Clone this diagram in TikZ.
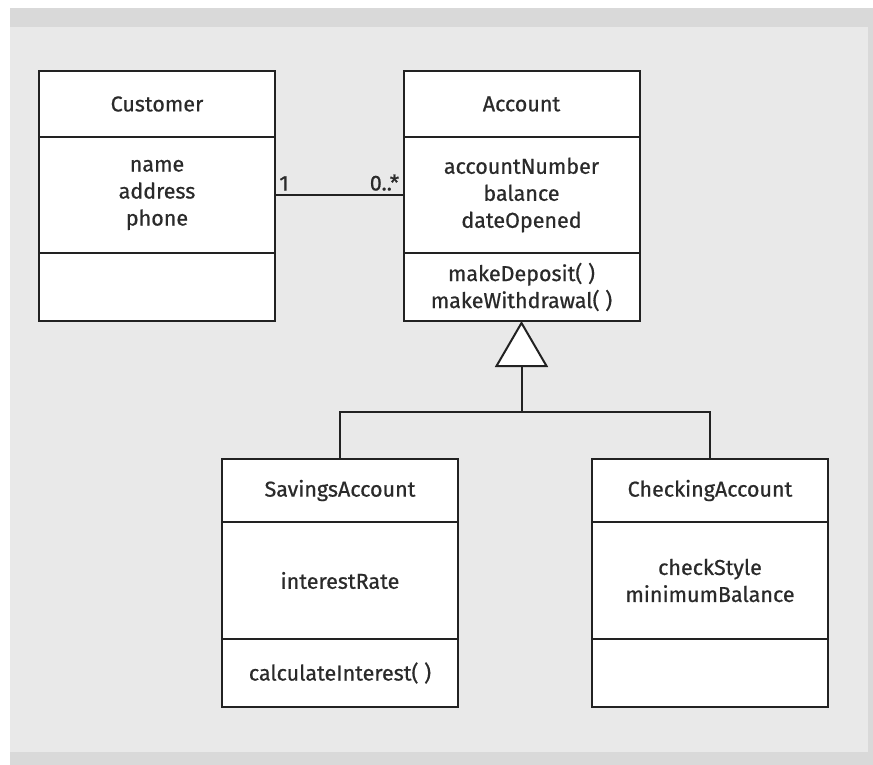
\documentclass[tikz,border=0pt]{standalone}
\usepackage{fontspec}
\setmainfont{Fira Sans}[UprightFeatures={FakeBold=0.7}]
\usepackage{tikz}
\usetikzlibrary{positioning}
\usetikzlibrary{arrows.meta}
\definecolor{panel}{HTML}{E9E9E9}
\definecolor{band}{HTML}{D9D9D9}
\definecolor{ink}{HTML}{222222}
\definecolor{words}{HTML}{2A2A2A}
\tikzset{
    compart/.style={draw=ink, line width=2pt, fill=white, inner sep=0pt,
        outer sep=0pt, minimum width=236pt, align=center, text=words,
        font=\fontsize{21.5}{27}\selectfont},
    assoc/.style={draw=ink, line width=2pt},
    mult/.style={text=words, font=\fontsize{21.5}{24}\selectfont},
    inherit/.style={draw=ink, line width=2pt,
        -{Triangle[fill=white, length=46pt, width=53pt]}},
    branch/.style={draw=ink, line width=2pt}
}
\begin{document}
\begin{tikzpicture}[x=1pt, y=-1pt]
\useasboundingbox (0,0) rectangle (873,765);
\fill[band] (10,8) rectangle (873,765);
\fill[panel] (10,27) rectangle (868,752);

% Customer
\node[compart, minimum height=66pt] (custname) at (157,104) {Customer};
\node[compart, minimum height=116pt, below=0pt of custname] (custattr) {name\\address\\phone};
\node[compart, minimum height=68pt, below=0pt of custattr] (custops) {};

% Account
\node[compart, minimum height=66pt] (acctname) at (521.5,104) {Account};
\node[compart, minimum height=116pt, below=0pt of acctname] (acctattr) {accountNumber\\balance\\dateOpened};
\node[compart, minimum height=68pt, below=0pt of acctattr] (acctops) {makeDeposit( )\\makeWithdrawal( )};

% SavingsAccount
\node[compart, minimum height=63pt] (savname) at (340,490.5) {SavingsAccount};
\node[compart, minimum height=117pt, below=0pt of savname] (savattr) {interestRate};
\node[compart, minimum height=68pt, below=0pt of savattr] (savops) {calculateInterest( )};

% CheckingAccount
\node[compart, minimum height=63pt] (chkname) at (710,490.5) {CheckingAccount};
\node[compart, minimum height=117pt, below=0pt of chkname] (chkattr) {checkStyle\\minimumBalance};
\node[compart, minimum height=68pt, below=0pt of chkattr] (chkops) {};

\draw[style={assoc}]
  (custattr.east) -- node[mult, pos=0, above right] {1}
  node[mult, pos=1, above left] {0..*} (acctattr.west);

\path (acctops.south) ++(0,91) coordinate (fork);
\draw[style={inherit}] (fork) -- (acctops.south);
\draw[style={branch}] (savname.north) |- (fork) -| (chkname.north);
\end{tikzpicture}
\end{document}
